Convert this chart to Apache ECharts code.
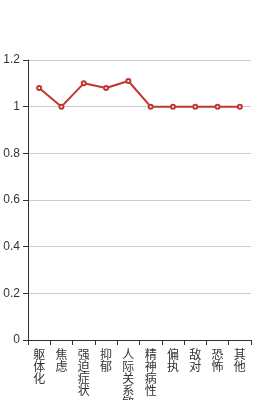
<!DOCTYPE html>
<html><head><meta charset="utf-8">
<script src="https://cdn.jsdelivr.net/npm/echarts@6/dist/echarts.min.js"></script>
<style>html,body{margin:0;padding:0;background:#fff}#c{width:280px;height:400px}</style>
</head><body><div id="c"></div>
<script>
var categories = ['躯体化','焦虑','强迫症状','抑郁','人际关系敏感','精神病性','偏执','敌对','恐怖','其他'];
var values = [1.08, 1.0, 1.1, 1.08, 1.11, 1.0, 1.0, 1.0, 1.0, 1.0];
var yTicks = [0, 0.2, 0.4, 0.6, 0.8, 1, 1.2];
var chart = echarts.init(document.getElementById('c'), null, {renderer:'canvas'});
chart.setOption({
  animation:false,
  grid:{left:28,right:29,top:60,bottom:60,containLabel:false,outerBoundsMode:'none'},
  xAxis:{type:'category',data:categories,boundaryGap:true,
    axisLine:{lineStyle:{color:'#333'}},
    axisTick:{show:true,lineStyle:{color:'#333'}},
    axisLabel:{interval:0,color:'#333',fontSize:12,lineHeight:12,margin:8,
      fontFamily:'Noto Sans CJK SC',
      formatter:function(v){return v.split('').join('\n');}}},
  yAxis:{type:'value',min:0,max:1.2,interval:0.2,
    axisLine:{show:true,lineStyle:{color:'#333'}},
    axisTick:{show:true,lineStyle:{color:'#333'}},
    axisLabel:{color:'#333',fontSize:12,margin:8,formatter:function(v){return String(Math.round(v*10)/10);}},
    splitLine:{lineStyle:{color:'#ccc'}}},
  series:[{type:'line',data:values,symbol:'emptyCircle',symbolSize:4,
    itemStyle:{color:'#c23531'},lineStyle:{color:'#c23531',width:2}}]
});
</script></body></html>
